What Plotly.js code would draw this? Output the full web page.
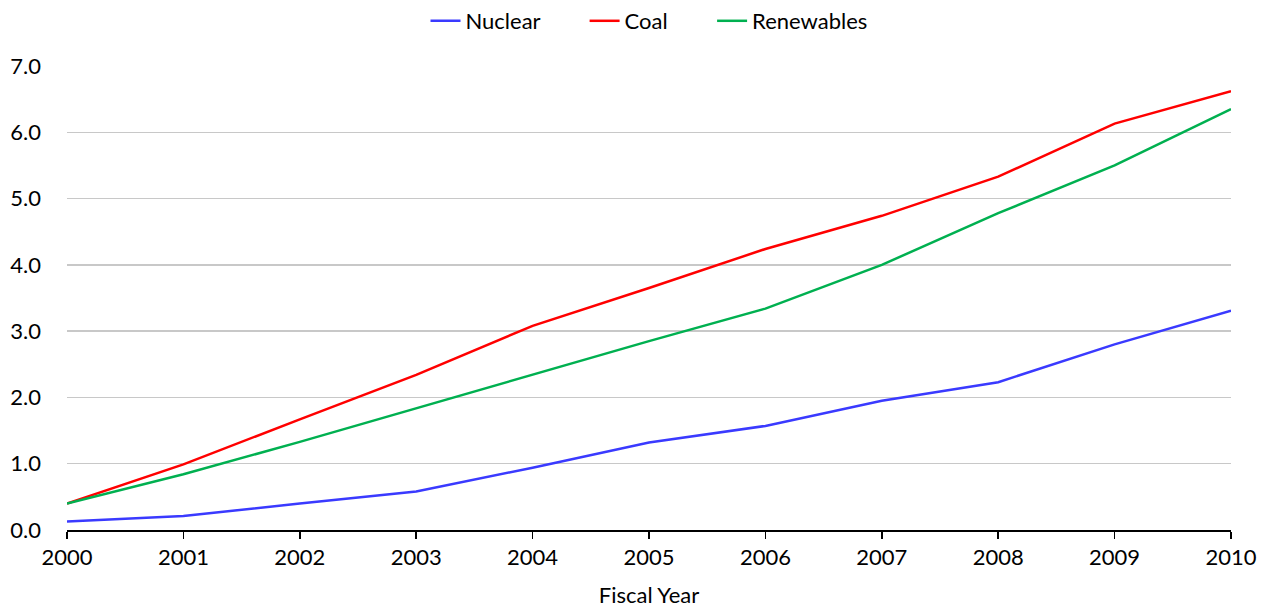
<!DOCTYPE html>
<html>
<head>
<meta charset="utf-8">
<script src="https://cdn.plot.ly/plotly-3.0.1.min.js"></script>
<style>html,body{margin:0;padding:0;background:#fff;}#chart{width:1274px;height:610px;}</style>
</head>
<body>
<div id="chart"></div>
<script>
const years = [2000, 2001, 2002, 2003, 2004, 2005, 2006, 2007, 2008, 2009, 2010];
const nuclear = [0.13, 0.21, 0.40, 0.58, 0.94, 1.32, 1.57, 1.95, 2.23, 2.80, 3.31];
const coal = [0.40, 0.99, 1.67, 2.34, 3.08, 3.65, 4.24, 4.74, 5.33, 6.13, 6.62];
const renewables = [0.40, 0.84, 1.33, 1.84, 2.34, 2.85, 3.34, 4.00, 4.78, 5.50, 6.35];
const yTicks = [0, 1, 2, 3, 4, 5, 6, 7];
const yTickText = ['0.0', '1.0', '2.0', '3.0', '4.0', '5.0', '6.0', '7.0'];
const seriesNames = ['Nuclear', 'Coal', 'Renewables'];

const gap = '\u00a0\u00a0\u00a0\u00a0\u00a0\u00a0\u00a0';
const traces = [
  {x: years, y: nuclear, name: seriesNames[0] + gap, mode: 'lines', line: {color: '#3a3aff', width: 2.5}},
  {x: years, y: coal, name: seriesNames[1] + gap, mode: 'lines', line: {color: '#ff0000', width: 2.5}},
  {x: years, y: renewables, name: seriesNames[2], mode: 'lines', line: {color: '#00b050', width: 2.5}}
];

const layout = {
  width: 1274, height: 610,
  margin: {l: 67, r: 43, t: 66, b: 80},
  paper_bgcolor: '#fff', plot_bgcolor: '#fff',
  font: {family: 'Lato, "Open Sans", sans-serif', size: 22, color: '#000'},
  showlegend: true,
  legend: {orientation: 'h', x: 0.5, xanchor: 'center', y: 1.0, yref: 'container', yanchor: 'top',
           font: {size: 22}, itemwidth: 30, traceorder: 'normal'},
  xaxis: {
    range: [2000, 2010], tickvals: years, ticktext: years.map(String),
    showgrid: false, zeroline: false, showline: true, linecolor: '#000', linewidth: 2,
    ticks: 'outside', ticklen: 7, tickwidth: 1.5, tickcolor: '#000',
    title: {text: 'Fiscal Year', font: {size: 22}, standoff: 18},
    fixedrange: true
  },
  yaxis: {
    range: [0, 7], tickvals: yTicks, ticktext: yTickText,
    showgrid: true, gridcolor: '#c8c8c8', gridwidth: 1.3, zeroline: false, showline: false,
    ticks: '', ticklabelstandoff: 25, fixedrange: true
  }
};
Plotly.newPlot('chart', traces, layout, {displayModeBar: false, staticPlot: true});
</script>
</body>
</html>
